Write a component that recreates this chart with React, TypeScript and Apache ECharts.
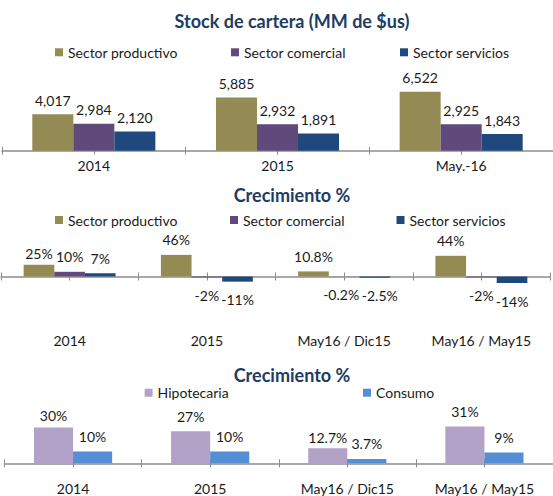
import React, { useEffect, useRef } from "react";
import * as echarts from "echarts";

// ---------- data ----------
const stockCategories = ["2014", "2015", "May.-16"];
const stockProductivo = [4017, 5885, 6522];
const stockComercial = [2984, 2932, 2925];
const stockServicios = [2120, 1891, 1843];

const growthCategories = ["2014", "2015", "May16 / Dic15", "May16 / May15"];
const growthProductivo = [25, 46, 10.8, 44];
const growthComercial = [10, -2, -0.2, -2];
const growthServicios = [7, -11, -2.5, -14];

const householdCategories = ["2014", "2015", "May16 / Dic15", "May16 / May15"];
const hipotecaria = [30, 27, 12.7, 31];
const consumo = [10, 10, 3.7, 9];

const sectorNames = ["Sector productivo", "Sector comercial", "Sector servicios"];
const householdNames = ["Hipotecaria", "Consumo"];
const titles = ["Stock de cartera (MM de $us)", "Crecimiento %", "Crecimiento %"];

// ---------- styles ----------
const FONT = "Lato";
const TEXT = "#1a1a1a";
const TITLE = "#203C64";
const AXIS = "#8C8C8C";
const C_PROD = "#948A54";
const C_COM = "#604A7B";
const C_SERV = "#1F497D";
const C_HIP = "#B3A2C7";
const C_CON = "#558ED5";

// manual label nudges, as placed in the original chart (key: series id + point index)
const labelNudges: Record<string, { dx?: number; distance?: number }> = {
  "g-com-2": { dx: -3 },
  "g-serv-2": { dx: 5 },
  "g-prod-0": { distance: 4 },
  "h-hip-0": { distance: 5 },
  "h-hip-2": { distance: 4 },
};

const fmtThousands = (v: number) => v.toLocaleString("en-US");
const fmtPct = (v: number) => `${v}%`;

function tickAxes(gridIndex: number, n: number) {
  const base = {
    gridIndex,
    type: "value",
    min: 0,
    max: n,
    interval: 0.5,
    position: "bottom",
    axisLabel: { show: false },
    splitLine: { show: false },
  };
  return [
    {
      ...base,
      axisLine: { show: true, onZero: false, lineStyle: { color: AXIS, width: 1.5 } },
      axisTick: { show: true, inside: false, length: 4, lineStyle: { color: AXIS, width: 1 } },
    },
    {
      ...base,
      axisLine: { show: false, onZero: false },
      axisTick: { show: true, inside: true, length: 4, lineStyle: { color: AXIS, width: 1 } },
    },
  ];
}

function catAxis(gridIndex: number, data: string[], margin: number) {
  return {
    gridIndex,
    type: "category",
    data,
    position: "bottom",
    axisLine: { show: false, onZero: false },
    axisTick: { show: false },
    axisLabel: { fontSize: 14, color: TEXT, fontFamily: FONT, margin },
  };
}

function barSeries(
  id: string,
  name: string,
  values: number[],
  color: string,
  xi: number,
  yi: number,
  fmt: (v: number) => string,
  catGap: string,
  posDist: number,
  negDist: number
) {
  return {
    type: "bar",
    id,
    name,
    xAxisIndex: xi,
    yAxisIndex: yi,
    barGap: "0%",
    barCategoryGap: catGap,
    itemStyle: { color },
    label: {
      show: true,
      position: "top",
      distance: posDist,
      fontSize: 14,
      fontFamily: FONT,
      color: TEXT,
      formatter: (p: any) => fmt(p.value),
    },
    data: values.map((v, i) => {
      const nudge = labelNudges[`${id}-${i}`] || {};
      const label: any = {};
      if (v < 0) {
        label.position = "bottom";
        label.distance = negDist;
      }
      if (nudge.distance != null) label.distance = nudge.distance;
      if (nudge.dx != null) label.offset = [nudge.dx, 0];
      return { value: v, label };
    }),
  };
}

function legendItem(name: string, left: number, top: number) {
  return {
    data: [name],
    left,
    top,
    padding: 0,
    icon: "rect",
    itemWidth: 8,
    itemHeight: 8,
    textStyle: { fontSize: 14, fontFamily: FONT, color: TEXT },
  };
}

// panel geometry
const P1 = { left: 2, width: 559.5, axisY: 150.7, yMax: 8000, px: 0.00905 };
const P2 = { left: 1, width: 549, zeroY: 276.5, yMin: -20, yMax: 50, px: 0.47 };
const P3 = { left: 4.5, width: 553.2, axisY: 463.3, yMax: 40, px: 1.19 };

const p1Height = P1.yMax * P1.px;
const p2Height = (P2.yMax - P2.yMin) * P2.px;
const p2Top = P2.zeroY - P2.yMax * P2.px;
const p2Bottom = p2Top + p2Height;
const p3Height = P3.yMax * P3.px;

const option: any = {
  animation: false,
  backgroundColor: "#ffffff",
  textStyle: { fontFamily: FONT },
  graphic: titles.map((t, i) => ({
    type: "text",
    x: 292,
    y: [21, 195, 375][i],
    style: {
      text: t,
      fontSize: 18,
      fontWeight: "bold",
      fontFamily: FONT,
      fill: TITLE,
      align: "center",
      verticalAlign: "middle",
      textAlign: "center",
      textVerticalAlign: "middle",
    },
  })),
  legend: [
    legendItem(sectorNames[0], 55, 45.3),
    legendItem(sectorNames[1], 231, 45.3),
    legendItem(sectorNames[2], 400, 45.3),
    legendItem(sectorNames[0], 55, 213),
    legendItem(sectorNames[1], 230, 213),
    legendItem(sectorNames[2], 396.5, 213),
    legendItem(householdNames[0], 144.6, 385.7),
    legendItem(householdNames[1], 363, 385.7),
  ],
  grid: [
    { left: P1.left, width: P1.width, top: P1.axisY - p1Height, height: p1Height },
    { left: P2.left, width: P2.width, top: p2Top, height: p2Height },
    { left: P2.left, width: P2.width, top: P2.zeroY - 10, height: 10 },
    { left: P3.left, width: P3.width, top: P3.axisY - p3Height, height: p3Height },
  ],
  xAxis: [
    catAxis(0, stockCategories, 7.3),
    ...tickAxes(0, stockCategories.length),
    catAxis(1, growthCategories, 340 - 7 - p2Bottom),
    ...tickAxes(2, growthCategories.length),
    catAxis(3, householdCategories, 18),
    ...tickAxes(3, householdCategories.length),
  ],
  yAxis: [
    { gridIndex: 0, type: "value", min: 0, max: P1.yMax, show: false, splitLine: { show: false } },
    { gridIndex: 1, type: "value", min: P2.yMin, max: P2.yMax, show: false, splitLine: { show: false } },
    { gridIndex: 2, type: "value", min: 0, max: 1, show: false, splitLine: { show: false } },
    { gridIndex: 3, type: "value", min: 0, max: P3.yMax, show: false, splitLine: { show: false } },
  ],
  series: [
    barSeries("s-prod", sectorNames[0], stockProductivo, C_PROD, 0, 0, fmtThousands, "33%", 7, 10),
    barSeries("s-com", sectorNames[1], stockComercial, C_COM, 0, 0, fmtThousands, "33%", 7, 10),
    barSeries("s-serv", sectorNames[2], stockServicios, C_SERV, 0, 0, fmtThousands, "33%", 7, 10),
    barSeries("g-prod", sectorNames[0], growthProductivo, C_PROD, 3, 1, fmtPct, "33%", 8, 11),
    barSeries("g-com", sectorNames[1], growthComercial, C_COM, 3, 1, fmtPct, "33%", 8, 11),
    barSeries("g-serv", sectorNames[2], growthServicios, C_SERV, 3, 1, fmtPct, "33%", 8, 11),
    barSeries("h-hip", householdNames[0], hipotecaria, C_HIP, 6, 3, fmtPct, "43%", 8, 10),
    barSeries("h-con", householdNames[1], consumo, C_CON, 6, 3, fmtPct, "43%", 8, 10),
  ],
};

export default function App() {
  const ref = useRef<HTMLDivElement>(null);
  useEffect(() => {
    if (!ref.current) return;
    const chart = echarts.init(ref.current, null, { renderer: "svg" });
    chart.setOption(option);
    return () => chart.dispose();
  }, []);
  return (
    <div
      ref={ref}
      style={{ position: "absolute", left: 0, top: 0, width: 553, height: 496, background: "#fff" }}
    />
  );
}
